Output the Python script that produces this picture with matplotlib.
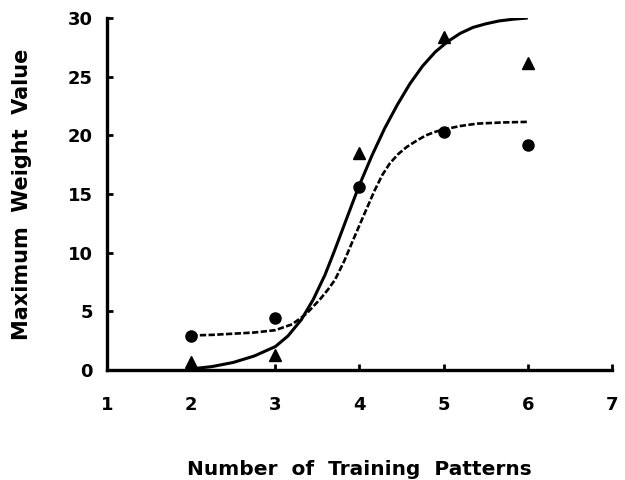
import matplotlib
matplotlib.use("Agg")
import matplotlib.pyplot as plt

# Observed data points
patterns = [2, 3, 4, 5, 6]
triangle_vals = [0.7, 1.3, 18.5, 28.4, 26.2]
circle_vals = [2.9, 4.4, 15.6, 20.3, 19.2]

solid_x = [2.0, 2.25, 2.5, 2.75, 3.0, 3.15, 3.31, 3.45, 3.59, 3.70, 3.80, 3.90,
           3.99, 4.15, 4.30, 4.45, 4.60, 4.75, 4.90, 5.05, 5.20, 5.35, 5.50,
           5.66, 5.83, 6.0]
solid_y = [0.1, 0.3, 0.65, 1.2, 2.0, 2.9, 4.3, 6.0, 8.1, 10.1, 12.0, 13.9,
           15.6, 18.3, 20.6, 22.6, 24.4, 25.9, 27.1, 28.0, 28.7, 29.2, 29.5,
           29.75, 29.9, 30.0]

dashed_x = [2.0, 2.25, 2.5, 2.75, 3.0, 3.2, 3.37, 3.54, 3.63, 3.71, 3.82, 3.92,
            4.04, 4.18, 4.27, 4.36, 4.46, 4.56, 4.68, 4.79, 4.9, 5.0, 5.2, 5.4,
            5.7, 6.0]
dashed_y = [2.95, 3.0, 3.1, 3.2, 3.4, 3.9, 4.8, 6.1, 6.9, 7.7, 9.3, 11.0,
            13.0, 15.3, 16.6, 17.6, 18.4, 19.0, 19.55, 20.0, 20.3, 20.5, 20.8,
            21.0, 21.1, 21.15]

x_ticks = [1, 2, 3, 4, 5, 6, 7]
y_ticks = [0, 5, 10, 15, 20, 25, 30]

plt.rcParams['font.family'] = ['DejaVu Sans']
plt.rcParams['font.weight'] = 'bold'

fig = plt.figure(figsize=(6.25, 4.8), dpi=100)
ax = fig.add_axes([0.1712, 0.229, 0.8078, 0.7335])

ax.plot(solid_x, solid_y, color='black', lw=2.2, solid_capstyle='butt',
        solid_joinstyle='round')
ax.plot(dashed_x, dashed_y, color='black', lw=1.9, linestyle=(0, (2.4, 0.9)))
ax.plot(patterns, triangle_vals, linestyle='none', marker='^', color='black',
        markersize=8, clip_on=False)
ax.plot(patterns, circle_vals, linestyle='none', marker='o', color='black',
        markersize=8, clip_on=False)

ax.set_xlim(1, 7)
ax.set_ylim(0, 30)
ax.set_xticks(x_ticks)
ax.set_yticks(y_ticks)
ax.set_xticklabels([str(v) for v in x_ticks], fontsize=13, fontweight='bold')
ax.set_yticklabels([str(v) for v in y_ticks], fontsize=13, fontweight='bold')

for s in ['top', 'right']:
    ax.spines[s].set_visible(False)
for s in ['left', 'bottom']:
    ax.spines[s].set_linewidth(2.4)

ax.tick_params(axis='both', direction='in', length=4, width=2)
ax.tick_params(axis='x', pad=19)
ax.tick_params(axis='y', pad=10)

ax.set_xlabel('Number  of  Training  Patterns', fontsize=14.5, fontweight='bold',
              labelpad=33)
ax.set_ylabel('Maximum  Weight  Value', fontsize=15, fontweight='bold',
              labelpad=26)

fig.savefig('out.png', dpi=100)
